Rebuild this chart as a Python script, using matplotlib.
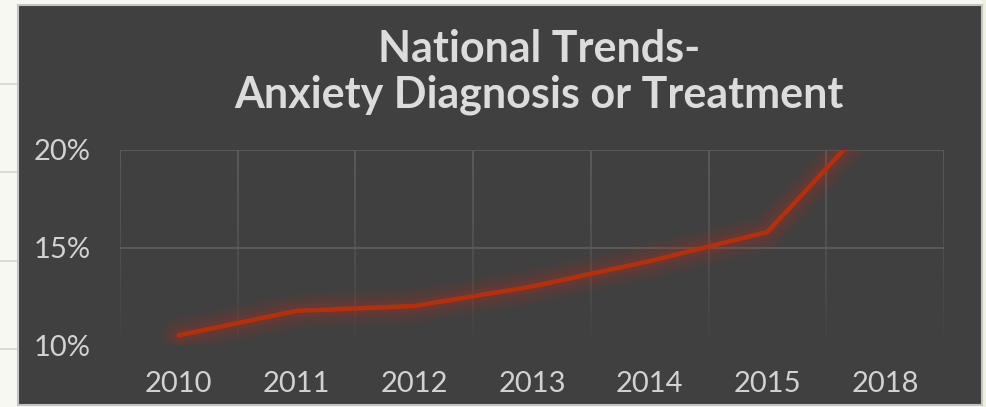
import matplotlib.pyplot as plt
from matplotlib.patches import Rectangle
import numpy as np

# data
years = ['2010', '2011', '2012', '2013', '2014', '2015', '2018']
anxiety_pct = [10.5, 11.75, 12.0, 13.0, 14.3, 15.8, 22.3]
y_ticks = [10, 15, 20]
title = 'National Trends-\nAnxiety Diagnosis or Treatment'

W, H = 987, 407
panel = '#404040'
red = '#b3300e'

plt.rcParams['font.family'] = ['Lato', 'DejaVu Sans']

fig = plt.figure(figsize=(W / 100, H / 100), dpi=100, facecolor='#f7f8f1')

# background outside the dark panel
fig.patches.append(Rectangle((982 / W, 0), 1, 1, transform=fig.transFigure,
                             facecolor='#eef2dc', edgecolor='none', zorder=-3))
for yy in [84, 172, 261, 349]:
    fig.add_artist(plt.Line2D([0, 18 / W], [1 - yy / H] * 2, color='#d4d6cf',
                              lw=1.2, zorder=-3))
fig.patches.append(Rectangle((18 / W, 1 - 405 / H), 964 / W, 400 / H,
                             transform=fig.transFigure, facecolor=panel,
                             edgecolor='#c4c4c4', lw=1.5, zorder=-2))

ax = fig.add_axes([120 / W, 1 - 345 / H, 824 / W, 195 / H])
ax.set_zorder(2)
ax.set_facecolor('none')
x = np.arange(len(years))
ax.set_xlim(-0.5, len(years) - 0.5)
ax.set_ylim(10, 20)

# horizontal grid (not at the bottom)
for t in y_ticks[1:]:
    ax.axhline(t, color='#5c5c5c', lw=1.3, zorder=1)
# vertical grid at category edges, fading towards the bottom
segs = np.linspace(20, 10.4, 25)
for b in np.arange(len(years) + 1) - 0.5:
    for i in range(len(segs) - 1):
        a = 1 - i / (len(segs) - 1)
        ax.plot([b, b], [segs[i], segs[i + 1]], color='#5c5c5c', lw=1.3,
                alpha=max(a, 0.05) ** 0.7, solid_capstyle='butt', zorder=1)

# glow around the line
for lw, al in [(26, 0.05), (20, 0.07), (14, 0.09), (9, 0.12)]:
    ax.plot(x, anxiety_pct, color='#c0301c', lw=lw, alpha=al,
            solid_capstyle='round', solid_joinstyle='round', zorder=2)
ax.plot(x, anxiety_pct, color=red, lw=3.2, solid_capstyle='round',
        solid_joinstyle='round', zorder=3)

for s in ax.spines.values():
    s.set_visible(False)
ax.set_xticks(x)
ax.set_xticklabels(years)
ax.set_yticks(y_ticks)
ax.set_yticklabels([f'{t}%' for t in y_ticks])
ax.tick_params(length=0, colors='#d2d2d2', labelsize=21)
ax.tick_params(axis='x', pad=19)
ax.tick_params(axis='y', pad=21)

fig.text(539 / W, 1 - 72 / H, title, ha='center', va='center', color='#dcdcdc',
         fontsize=31, fontweight='bold', linespacing=1.15)

fig.savefig('out.png', dpi=100, facecolor=fig.get_facecolor())
